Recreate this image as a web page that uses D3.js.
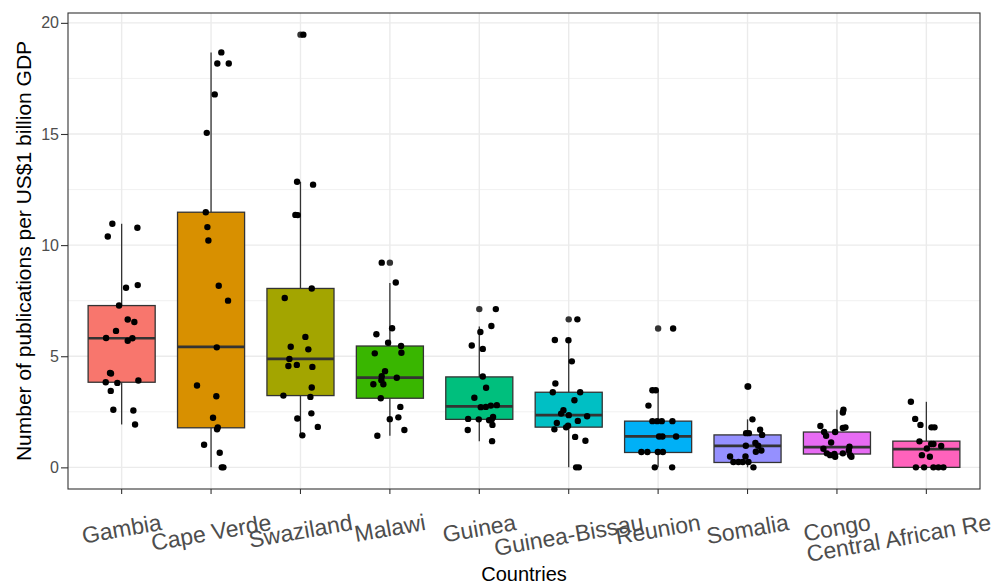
<!DOCTYPE html>
<html>
<head>
<meta charset="utf-8">
<script src="https://cdn.jsdelivr.net/npm/d3@7"></script>
<style>
  body { margin: 0; background: #fff; }
  text { font-family: "Liberation Sans", Arial, sans-serif; }
</style>
</head>
<body>
<svg id="chart"></svg>
<script>
const countries = ["Gambia", "Cape Verde", "Swaziland", "Malawi", "Guinea",
    "Guinea-Bissau", "Reunion", "Somalia", "Congo", "Central African Re"];
const fills = ["#F8766D", "#D89000", "#A3A500", "#39B600", "#00BF7D",
    "#00BFC4", "#00B0F6", "#9590FF", "#E76BF3", "#FF62BC"];

// box stats
const boxLow    = [1.93, 0,     1.44, 1.42, 1.18, 0,    0,    0,    0.48, 0];
const boxQ1     = [3.83, 1.78,  3.23, 3.11, 2.16, 1.81, 0.67, 0.22, 0.60, 0];
const boxMedian = [5.81, 5.42,  4.88, 4.04, 2.74, 2.35, 1.39, 0.97, 0.91, 0.82];
const boxQ3     = [7.28, 11.48, 8.05, 5.46, 4.07, 3.38, 2.08, 1.46, 1.59, 1.18];
const boxHigh   = [10.96, 18.67, 12.85, 8.30, 6.34, 5.72, 3.47, 2.16, 2.59, 2.95];

// [country index, value]
const outliers = [[2, 19.47], [3, 9.21], [4, 7.12], [5, 6.66], [6, 6.25], [7, 3.64]];

// jittered points: [offset in category widths, value]
const jitGambia = [[-0.104, 10.96], [-0.155, 10.39], [0.176, 10.78], [0.049, 8.08], [0.180, 8.2],
    [-0.029, 7.28], [0.068, 6.65], [0.142, 6.54], [-0.063, 6.14], [-0.174, 5.82], [0.120, 5.81],
    [0.068, 5.70], [-0.130, 4.25], [-0.119, 4.22], [-0.178, 3.83], [-0.048, 3.80], [0.187, 3.91],
    [-0.122, 3.44], [-0.093, 2.59], [0.131, 2.56], [0.150, 1.93]];
const jitCapeVerde = [[0.115, 18.67], [0.070, 18.17], [0.198, 18.17], [0.041, 16.78], [-0.048, 15.05],
    [-0.059, 11.48], [-0.041, 10.81], [-0.030, 10.21], [0.086, 8.17], [0.190, 7.50], [0.064, 5.40],
    [-0.157, 3.68], [0.059, 3.20], [0.022, 2.23], [0.075, 1.80], [0.067, 1.71], [-0.078, 1.02],
    [0.097, 0.66], [0.120, 0], [0.138, 0]];
const jitSwaziland = [[0.032, 19.47], [-0.038, 12.85], [0.141, 12.72], [-0.057, 11.36], [-0.030, 11.35],
    [0.126, 8.05], [-0.176, 7.62], [0.055, 5.87], [-0.109, 5.43], [0.088, 5.31], [-0.124, 4.88],
    [-0.135, 4.56], [-0.041, 4.61], [0.133, 4.52], [0.126, 3.59], [-0.191, 3.23], [0.111, 3.17],
    [0.122, 2.43], [-0.035, 2.20], [0.194, 1.82], [0.021, 1.44]];
const jitMalawi = [[-0.091, 9.21], [0.066, 8.32], [0.025, 6.26], [-0.151, 5.99], [-0.020, 5.61],
    [0.125, 5.46], [-0.169, 5.13], [0.129, 5.16], [-0.054, 4.33], [-0.091, 4.10], [0.077, 4.03],
    [-0.095, 3.92], [-0.185, 3.74], [-0.073, 3.74], [-0.102, 3.11], [0.117, 2.72], [-0.001, 2.17],
    [0.095, 2.25], [0.162, 1.68], [-0.140, 1.42]];
const jitGuinea = [[0.185, 7.12], [0.135, 6.36], [0.012, 6.09], [-0.084, 5.48], [0.039, 5.33],
    [0.039, 4.09], [0.076, 3.58], [-0.055, 3.13], [0.196, 2.80], [0.129, 2.78], [0.073, 2.72],
    [0.017, 2.71], [-0.125, 2.18], [-0.006, 2.16], [0.154, 2.27], [0.140, 2.16], [0.110, 2.12],
    [0.147, 1.91], [-0.129, 1.68], [0.143, 1.18]];
const jitGuineaBissau = [[0.097, 6.66], [-0.155, 5.73], [-0.003, 5.72], [0.035, 4.77], [-0.149, 3.77],
    [-0.178, 3.38], [0.128, 3.38], [0.064, 3.02], [-0.059, 2.57], [-0.085, 2.42], [0.001, 2.35],
    [0.206, 2.30], [0.102, 2.09], [-0.133, 2.00], [-0.007, 1.87], [-0.029, 1.80], [-0.160, 1.71],
    [0.072, 1.37], [0.187, 1.20], [0.083, 0], [0.113, 0]];
const jitReunion = [[0.168, 6.25], [-0.064, 3.47], [-0.026, 3.47], [-0.108, 2.78], [-0.064, 2.08],
    [-0.011, 2.08], [0.041, 2.08], [0.160, 2.08], [0.011, 1.39], [0.048, 1.39], [0.201, 1.39],
    [-0.187, 0.69], [-0.120, 0.69], [-0.003, 0.69], [0.053, 0.69], [-0.037, 0], [0.157, 0]];
const jitSomalia = [[0.007, 3.64], [0.055, 2.16], [0.141, 1.69], [-0.016, 1.54], [0.015, 1.54],
    [0.163, 1.46], [0.088, 1.10], [-0.019, 0.97], [0.119, 0.97], [0.155, 0.76], [0.093, 0.70],
    [-0.195, 0.49], [-0.023, 0.49], [-0.158, 0.24], [-0.102, 0.24], [-0.053, 0.24], [0.010, 0.24],
    [0.066, 0]];
const jitCongo = [[0.073, 2.59], [0.066, 2.47], [-0.185, 1.86], [0.095, 1.80], [0.066, 1.77],
    [-0.143, 1.59], [-0.020, 1.59], [-0.121, 1.42], [-0.065, 1.12], [-0.151, 0.84], [0.140, 0.93],
    [0.133, 0.76], [-0.113, 0.63], [-0.028, 0.60], [0.066, 0.63], [-0.076, 0.55], [0.162, 0.48],
    [-0.020, 0.48], [0.148, 0.55]];
const jitCAR = [[-0.173, 2.95], [-0.125, 2.18], [-0.066, 1.91], [0.057, 1.80], [0.091, 1.80],
    [-0.077, 1.17], [0.054, 1.05], [0.079, 1.05], [0.166, 0.96], [0.006, 0.85], [-0.050, 0.55],
    [0.039, 0.48], [-0.117, 0], [-0.025, 0], [0.079, 0], [0.135, 0], [0.191, 0]];
const jitter = [jitGambia, jitCapeVerde, jitSwaziland, jitMalawi, jitGuinea,
    jitGuineaBissau, jitReunion, jitSomalia, jitCongo, jitCAR];

const yTicks = [0, 5, 10, 15, 20];
const yMinor = [2.5, 7.5, 12.5, 17.5];

const W = 1003, H = 585;
const panel = { left: 68, right: 980, top: 13, bottom: 489 };

const svg = d3.select("#chart").attr("width", W).attr("height", H);

const x = d3.scaleBand()
    .domain(countries)
    .range([panel.left, panel.right])
    .paddingInner(0)
    .paddingOuter(0.1);
const bw = x.bandwidth();
const cx = i => x(countries[i]) + bw / 2;

const y = d3.scaleLinear()
    .domain([-0.9735, 20.4435])
    .range([panel.bottom, panel.top]);

// grid
const grid = svg.append("g");
grid.selectAll(".minor").data(yMinor).enter().append("line")
    .attr("x1", panel.left).attr("x2", panel.right)
    .attr("y1", d => y(d)).attr("y2", d => y(d))
    .attr("stroke", "#EBEBEB").attr("stroke-width", 0.7);
grid.selectAll(".major").data(yTicks).enter().append("line")
    .attr("x1", panel.left).attr("x2", panel.right)
    .attr("y1", d => y(d)).attr("y2", d => y(d))
    .attr("stroke", "#EBEBEB").attr("stroke-width", 1.4);
grid.selectAll(".vmajor").data(countries).enter().append("line")
    .attr("x1", (d, i) => cx(i)).attr("x2", (d, i) => cx(i))
    .attr("y1", panel.top).attr("y2", panel.bottom)
    .attr("stroke", "#EBEBEB").attr("stroke-width", 1.4);

// boxes
const boxes = svg.append("g");
const half = bw * 0.75 / 2;
countries.forEach((c, i) => {
    const g = boxes.append("g");
    g.append("line")
        .attr("x1", cx(i)).attr("x2", cx(i))
        .attr("y1", y(boxQ3[i])).attr("y2", y(boxHigh[i]))
        .attr("stroke", "#333333").attr("stroke-width", 1.3);
    g.append("line")
        .attr("x1", cx(i)).attr("x2", cx(i))
        .attr("y1", y(boxQ1[i])).attr("y2", y(boxLow[i]))
        .attr("stroke", "#333333").attr("stroke-width", 1.3);
    g.append("rect")
        .attr("x", cx(i) - half).attr("width", half * 2)
        .attr("y", y(boxQ3[i])).attr("height", y(boxQ1[i]) - y(boxQ3[i]))
        .attr("fill", fills[i])
        .attr("stroke", "#333333").attr("stroke-width", 1.3);
    g.append("line")
        .attr("x1", cx(i) - half).attr("x2", cx(i) + half)
        .attr("y1", y(boxMedian[i])).attr("y2", y(boxMedian[i]))
        .attr("stroke", "#333333").attr("stroke-width", 2.7);
});

// outliers from the boxplot layer
svg.append("g").selectAll("circle").data(outliers).enter().append("circle")
    .attr("cx", d => cx(d[0]))
    .attr("cy", d => y(d[1]))
    .attr("r", 3.2)
    .attr("fill", "#333333");

// jittered points
const pts = svg.append("g");
jitter.forEach((arr, i) => {
    pts.selectAll(null).data(arr).enter().append("circle")
        .attr("cx", d => cx(i) + d[0] * bw)
        .attr("cy", d => y(d[1]))
        .attr("r", 3.2)
        .attr("fill", "#000");
});

// panel border
svg.append("rect")
    .attr("x", panel.left).attr("y", panel.top)
    .attr("width", panel.right - panel.left).attr("height", panel.bottom - panel.top)
    .attr("fill", "none").attr("stroke", "#333333").attr("stroke-width", 1.1);

// y axis
const yAxis = svg.append("g")
    .attr("transform", "translate(" + panel.left + ",0)")
    .call(d3.axisLeft(y).tickValues(yTicks).tickSize(7).tickPadding(2).tickFormat(d3.format("d")));
yAxis.select(".domain").remove();
yAxis.selectAll(".tick line").attr("stroke", "#333333").attr("stroke-width", 1.1);
yAxis.selectAll("text")
    .attr("fill", "#4D4D4D")
    .style("font-size", "16px")
    .style("font-family", "'Liberation Sans', Arial, sans-serif");

// x axis ticks
const xAxis = svg.append("g")
    .attr("transform", "translate(0," + panel.bottom + ")")
    .call(d3.axisBottom(x).tickSize(5).tickFormat(""));
xAxis.select(".domain").remove();
xAxis.selectAll(".tick line").attr("stroke", "#333333").attr("stroke-width", 1.1);

// rotated x labels: top of the rotated box is aligned, centred on the tick
const ang = 10 * Math.PI / 180;
const labelTop = 509;
const labels = svg.append("g");
countries.forEach((c, i) => {
    const t = labels.append("text")
        .attr("text-anchor", "middle")
        .attr("dominant-baseline", "central")
        .attr("fill", "#4D4D4D")
        .style("font-size", "23px")
        .text(c);
    const bb = t.node().getBBox();
    const hh = (bb.width / 2) * Math.sin(ang) + (bb.height / 2) * Math.cos(ang);
    const hw = (bb.width / 2) * Math.cos(ang) + (bb.height / 2) * Math.sin(ang);
    let px = cx(i);
    if (px + hw > W - 10) px = W - 10 - hw;
    t.attr("transform", "translate(" + px + "," + (labelTop + hh) + ") rotate(-10)");
});

// titles
svg.append("text")
    .attr("x", (panel.left + panel.right) / 2)
    .attr("y", 581)
    .attr("text-anchor", "middle")
    .attr("fill", "#000")
    .style("font-size", "20px")
    .text("Countries");

svg.append("text")
    .attr("transform", "translate(31," + ((panel.top + panel.bottom) / 2) + ") rotate(-90)")
    .attr("text-anchor", "middle")
    .attr("fill", "#000")
    .style("font-size", "21px")
    .text("Number of publications per US$1 billion GDP");
</script>
</body>
</html>
